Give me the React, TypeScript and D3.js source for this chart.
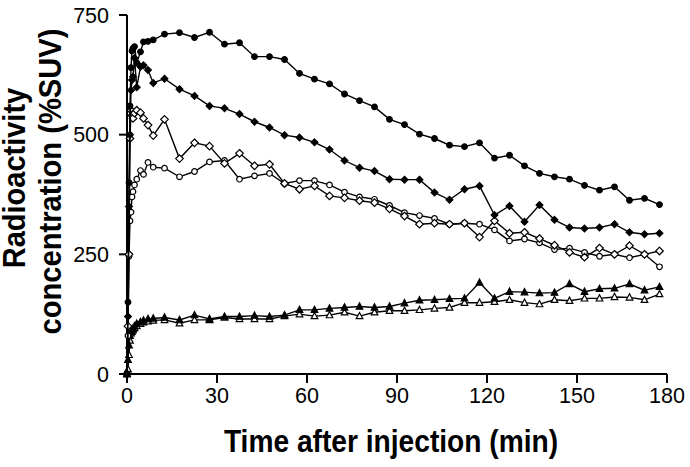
import React from "react";
import * as d3 from "d3";

const times = [0, 0.33, 0.67, 1, 1.33, 1.67, 2, 2.5, 3.25, 4.5, 5.5, 7, 8.75,
  12.5, 17.5, 22.5, 27.5, 32.5, 37.5, 42.5, 47.5, 52.5, 57.5, 62.5, 67.5, 72.5, 77.5, 82.5, 87.5,
  92.5, 97.5, 102.5, 107.5, 112.5, 117.5, 122.5, 127.5, 132.5, 137.5, 142.5, 147.5, 152.5, 157.5,
  162.5, 167.5, 172.5, 177.5];

const filledCircles = [0, 150, 400, 560, 640, 675, 680, 684, 650, 673, 694, 695, 698,
  710, 713, 703, 714, 689, 692, 663, 663, 657, 628, 616, 606, 585, 571, 558, 532, 521, 501, 492, 478,
  475, 483, 451, 457, 435, 419, 412, 407, 394, 384, 391, 363, 367, 354];

const filledDiamonds = [0, 120, 350, 500, 593, 614, 621, 660, 599, 642, 645, 635, 608,
  617, 595, 581, 560, 555, 543, 527, 515, 499, 494, 484, 469, 446, 431, 424, 407, 406, 406, 379, 364,
  386, 393, 332, 351, 318, 353, 322, 306, 304, 306, 313, 296, 292, 294];

const openDiamonds = [0, 100, 250, 492, 551, 540, 534, 545, 551, 546, 534, 520, 498,
  532, 450, 483, 476, 440, 461, 435, 438, 398, 386, 393, 372, 368, 362, 358, 345, 330, 313, 315, 313,
  315, 286, 320, 294, 296, 283, 269, 254, 244, 263, 250, 268, 250, 257];

const openCircles = [0, 80, 246, 320, 338, 370, 381, 395, 407, 425, 417, 442, 432,
  430, 412, 423, 443, 446, 407, 414, 419, 398, 404, 404, 395, 380, 370, 365, 352, 337, 331, 325, 313,
  315, 313, 301, 278, 282, 274, 260, 263, 254, 246, 250, 243, 250, 224];

const filledTriangles = [0, 30, 60, 80, 88, 92, 95, 100, 105, 109, 112, 115, 116,
  118, 113, 123, 115, 120, 120, 122, 120, 123, 134, 134, 137, 139, 141, 139, 141, 148, 154, 155, 157,
  158, 191, 158, 172, 171, 169, 170, 188, 172, 178, 179, 188, 175, 182];

const openTriangles = [0, 10, 40, 70, 85, 88, 92, 96, 100, 105, 108, 110, 112,
  113, 106, 113, 113, 118, 115, 115, 115, 121, 125, 121, 123, 129, 121, 129, 132, 132, 134, 137, 139,
  149, 149, 151, 155, 149, 146, 155, 153, 158, 158, 161, 160, 155, 167];

const xTicks = [0, 30, 60, 90, 120, 150, 180];
const yTicks = [0, 250, 500, 750];

type Shape = "circle" | "diamond" | "triangle";
const series: { name: string; values: number[]; shape: Shape; filled: boolean }[] = [
  { name: "openTriangles", values: openTriangles, shape: "triangle", filled: false },
  { name: "filledTriangles", values: filledTriangles, shape: "triangle", filled: true },
  { name: "openCircles", values: openCircles, shape: "circle", filled: false },
  { name: "openDiamonds", values: openDiamonds, shape: "diamond", filled: false },
  { name: "filledDiamonds", values: filledDiamonds, shape: "diamond", filled: true },
  { name: "filledCircles", values: filledCircles, shape: "circle", filled: true },
];

function markerPath(shape: Shape, filled: boolean): string {
  if (shape === "circle") {
    const r = 2.8;
    return `M${-r},0A${r},${r} 0 1,0 ${r},0A${r},${r} 0 1,0 ${-r},0Z`;
  }
  if (shape === "diamond") {
    const h = filled ? 3.4 : 3.8;
    return `M0,${-h}L${h},0L0,${h}L${-h},0Z`;
  }
  const s = 3.3;
  return `M0,${-s * 1.1}L${s},${s * 0.8}L${-s},${s * 0.8}Z`;
}

export default function App() {
  const W = 690, H = 467;
  const x = d3.scaleLinear().domain([0, 180]).range([127, 667]);
  const y = d3.scaleLinear().domain([0, 750]).range([374, 15]);
  const line = d3.line<[number, number]>().x((d) => x(d[0])).y((d) => y(d[1]));
  const font = "'Liberation Sans', Arial, Helvetica, sans-serif";

  return (
    <svg width={W} height={H} style={{ position: "absolute", left: 0, top: 0, background: "#fff" }}>
      <rect width={W} height={H} fill="#fff" />
      {/* axes */}
      <line x1={x(0)} x2={x(0)} y1={y(750)} y2={y(0)} stroke="#000" strokeWidth={2} />
      <line x1={x(0) - 1} x2={x(180)} y1={y(0)} y2={y(0)} stroke="#000" strokeWidth={2} />
      {yTicks.map((t) => (
        <g key={"y" + t}>
          <line x1={x(0) - 8} x2={x(0)} y1={y(t)} y2={y(t)} stroke="#000" strokeWidth={2} />
          <text x={109} y={y(t)} dy="0.36em" textAnchor="end" fontFamily={font} fontSize={21.5}>{t}</text>
        </g>
      ))}
      {xTicks.map((t) => (
        <g key={"x" + t}>
          <line x1={x(t)} x2={x(t)} y1={y(0)} y2={y(0) + 9} stroke="#000" strokeWidth={2} />
          <text x={x(t)} y={403} textAnchor="middle" fontFamily={font} fontSize={21.5}>{t}</text>
        </g>
      ))}
      {/* axis titles */}
      <text transform="translate(391,452) scale(0.88,1)" textAnchor="middle" fontFamily={font} fontWeight="bold" fontSize={32}>
        Time after injection (min)
      </text>
      <text transform="translate(25,178) rotate(-90) scale(0.935,1)" textAnchor="middle" fontFamily={font} fontWeight="bold" fontSize={31}>
        Radioactivity
      </text>
      <text transform="translate(61,181.5) rotate(-90) scale(0.94,1)" textAnchor="middle" fontFamily={font} fontWeight="bold" fontSize={31}>
        concentration (%SUV)
      </text>
      {/* series */}
      {series.map((s) => {
        const pts: [number, number][] = times.map((t, i) => [t, s.values[i]]);
        const p = markerPath(s.shape, s.filled);
        return (
          <g key={s.name}>
            <path d={line(pts) || ""} fill="none" stroke="#000" strokeWidth={1.4} />
            {pts.map((d, i) => (
              <path key={i} d={p} transform={`translate(${x(d[0])},${y(d[1])})`}
                fill={s.filled ? "#000" : "#fff"} stroke="#000" strokeWidth={1.2} />
            ))}
          </g>
        );
      })}
    </svg>
  );
}
